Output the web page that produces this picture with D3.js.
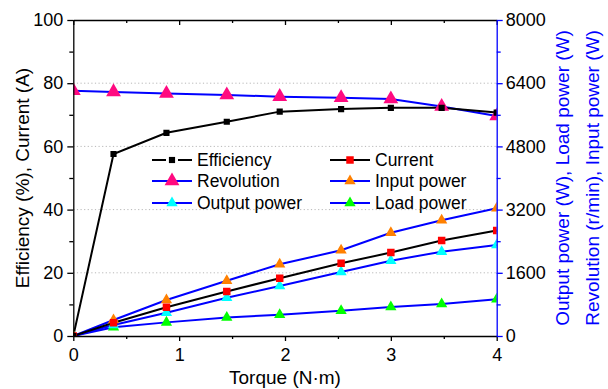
<!DOCTYPE html>
<meta charset="utf-8">
<style>
body { margin: 0; background: #fff; }
svg { font-family: Arial, "Liberation Sans", sans-serif; }
.grid line { stroke: #b8b8b8; stroke-dasharray: 1.2,2.4; }
.line { fill: none; stroke-width: 2; }
</style>
<svg width="608" height="389"></svg>
<script src="https://d3js.org/d3.v7.min.js"></script>
<script>

var torque     = [0, 0.38, 0.88, 1.45, 1.95, 2.53, 3.0, 3.48, 4.0];
var efficiency = [0, 57.6, 64.3, 67.8, 71.0, 71.8, 72.2, 72.2, 70.7];
var current    = [0, 4.2, 9.1, 14.1, 18.3, 23.0, 26.4, 30.2, 33.4];
var revolution = [6210, 6180, 6140, 6100, 6060, 6030, 6000, 5810, 5570];
var inputPower = [0, 405, 910, 1400, 1815, 2170, 2615, 2930, 3235];
var outputPower = [0, 280, 590, 970, 1265, 1620, 1905, 2135, 2305];
var loadPower  = [0, 220, 345, 470, 540, 640, 735, 810, 930];

var leftTicks = [0, 20, 40, 60, 80, 100];
var rightTicks = [0, 1600, 3200, 4800, 6400, 8000];
var xTicks = [0, 1, 2, 3, 4];

var svg = d3.select("svg");
var x0 = 73.3, x1 = 496.7, yTop = 20, yBot = 336;

var x = d3.scaleLinear().domain([0, 4]).range([x0, x1]);
var yL = d3.scaleLinear().domain([0, 100]).range([yBot, yTop]);
var yR = d3.scaleLinear().domain([0, 8000]).range([yBot, yTop]);

svg.append("clipPath").attr("id", "plot")
  .append("rect").attr("x", x0).attr("y", yTop).attr("width", x1 - x0).attr("height", yBot - yTop);

// grid
svg.append("g").attr("class", "grid")
  .selectAll("line").data([20, 40, 60, 80]).enter().append("line")
    .attr("x1", x0).attr("x2", x1)
    .attr("y1", function(d) { return yL(d); })
    .attr("y2", function(d) { return yL(d); });

// marks
var series = [
  { name: "Efficiency", values: efficiency, y: yL, line: "#000", fill: "#000", shape: d3.symbolSquare, size: 38 },
  { name: "Current", values: current, y: yL, line: "#000", fill: "#ff0000", shape: d3.symbolSquare, size: 56 },
  { name: "Revolution", values: revolution, y: yR, line: "#0000ff", fill: "#ff0a80", shape: d3.symbolTriangle, size: 95 },
  { name: "Input power", values: inputPower, y: yR, line: "#0000ff", fill: "#ff8000", shape: d3.symbolTriangle, size: 55 },
  { name: "Output power", values: outputPower, y: yR, line: "#0000ff", fill: "#00ffff", shape: d3.symbolTriangle, size: 55 },
  { name: "Load power", values: loadPower, y: yR, line: "#0000ff", fill: "#00ff00", shape: d3.symbolTriangle, size: 55 }
];

var plot = svg.append("g").attr("clip-path", "url(#plot)");
var drawOrder = [5, 4, 3, 1, 2, 0];
drawOrder.forEach(function(i) {
  var s = series[i];
  var line = d3.line()
    .x(function(d, j) { return x(torque[j]); })
    .y(function(d) { return s.y(d); });
  plot.append("path").datum(s.values).attr("class", "line")
    .attr("stroke", s.line).attr("d", line);
});
drawOrder.forEach(function(i) {
  var s = series[i];
  plot.append("g").selectAll("path").data(s.values).enter().append("path")
    .attr("transform", function(d, j) { return "translate(" + x(torque[j]) + "," + s.y(d) + ")"; })
    .attr("fill", s.fill)
    .attr("d", d3.symbol().type(s.shape).size(s.size));
});

// axes
var bottom = svg.append("g").attr("transform", "translate(0," + yBot + ")")
  .call(d3.axisBottom(x).tickValues(xTicks).tickFormat(d3.format("d")).tickSize(5).tickSizeOuter(0));
svg.append("g").attr("transform", "translate(0," + yBot + ")")
  .call(d3.axisBottom(x).tickValues(d3.range(0.5, 4, 1)).tickFormat("").tickSize(3).tickSizeOuter(0))
  .select(".domain").remove();

svg.append("g").attr("transform", "translate(0," + yTop + ")")
  .call(d3.axisBottom(x).tickValues(xTicks).tickFormat("").tickSize(5).tickSizeOuter(0));
svg.append("g").attr("transform", "translate(0," + yTop + ")")
  .call(d3.axisBottom(x).tickValues(d3.range(0.5, 4, 1)).tickFormat("").tickSize(3).tickSizeOuter(0))
  .select(".domain").remove();

var left = svg.append("g").attr("transform", "translate(" + x0 + ",0)")
  .call(d3.axisLeft(yL).tickValues(leftTicks).tickSize(6).tickSizeOuter(0));
svg.append("g").attr("transform", "translate(" + x0 + ",0)")
  .call(d3.axisLeft(yL).tickValues(d3.range(10, 100, 20)).tickFormat("").tickSize(4).tickSizeOuter(0))
  .select(".domain").remove();

var right = svg.append("g").attr("transform", "translate(" + x1 + ",0)")
  .call(d3.axisRight(yR).tickValues(rightTicks).tickFormat(d3.format("d")).tickSize(6).tickSizeOuter(0));
var rightMinor = svg.append("g").attr("transform", "translate(" + x1 + ",0)")
  .call(d3.axisRight(yR).tickValues(d3.range(800, 8000, 1600)).tickFormat("").tickSize(4).tickSizeOuter(0));
rightMinor.select(".domain").remove();

svg.selectAll(".domain").attr("stroke-width", 1.3);
svg.selectAll(".tick line").attr("stroke-width", 1.3);
right.selectAll(".domain, .tick line").attr("stroke", "#0000ff");
rightMinor.selectAll(".tick line").attr("stroke", "#0000ff");
svg.selectAll(".tick text").attr("font-size", 18).attr("fill", "#000")
  .attr("font-family", "Arial, 'Liberation Sans', sans-serif");
bottom.selectAll(".tick text").attr("dy", "0.95em");
left.selectAll(".tick text").attr("dx", "-1px");

// titles
svg.append("text").attr("x", (x0 + x1) / 2).attr("y", 384)
  .attr("text-anchor", "middle").attr("font-size", 19).text("Torque (N\u00b7m)");
svg.append("text").attr("transform", "translate(29," + (yTop + yBot) / 2 + ") rotate(-90)")
  .attr("text-anchor", "middle").attr("font-size", 19).text("Efficiency (%), Current (A)");
svg.append("text").attr("transform", "translate(569," + (yTop + yBot) / 2 + ") rotate(-90)")
  .attr("text-anchor", "middle").attr("font-size", 19).attr("fill", "#0000ff")
  .text("Output power (W), Load power (W)");
svg.append("text").attr("transform", "translate(599," + (yTop + yBot) / 2 + ") rotate(-90)")
  .attr("text-anchor", "middle").attr("font-size", 19).attr("fill", "#0000ff")
  .text("Revolution (r/min), Input power (W)");

// legend
var legend = svg.append("g");
var cols = [152, 330], rows = [160, 181, 203];
series.forEach(function(s, i) {
  var lx = cols[i % 2], ly = rows[Math.floor(i / 2)];
  var g = legend.append("g").attr("transform", "translate(" + lx + "," + ly + ")");
  if (i === 0) {
    g.append("line").attr("x1", 0).attr("x2", 14).attr("stroke", s.line).attr("stroke-width", 2);
    g.append("line").attr("x1", 26).attr("x2", 40).attr("stroke", s.line).attr("stroke-width", 2);
  } else {
    g.append("line").attr("x1", 0).attr("x2", 40).attr("stroke", s.line).attr("stroke-width", 2);
  }
  g.append("path").attr("transform", "translate(20,0)").attr("fill", s.fill)
    .attr("d", d3.symbol().type(s.shape).size(s.size));
  g.append("text").attr("x", 45).attr("y", 0).attr("dy", "0.35em")
    .attr("font-size", 17.5).text(s.name);
});

</script>
